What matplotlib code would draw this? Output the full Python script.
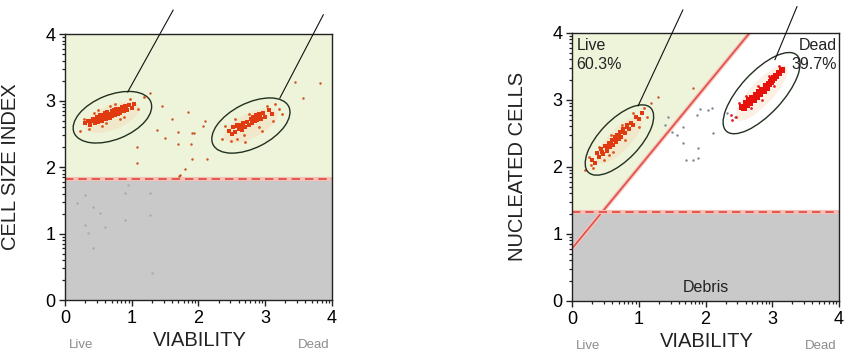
import numpy as np
import matplotlib.pyplot as plt
from matplotlib.patches import Ellipse
from matplotlib.ticker import FixedLocator

plt.rcParams['font.family'] = ['Liberation Sans', 'DejaVu Sans']

# ---- panel 1: cell size index vs viability ----
size_cut = 1.82

live1_core_x = [0.30, 0.35, 0.38, 0.42, 0.45, 0.48, 0.50, 0.52, 0.55, 0.57, 0.58, 0.60, 0.62, 0.63,
                0.65, 0.66, 0.68, 0.70, 0.71, 0.73, 0.75, 0.77, 0.79, 0.80, 0.83, 0.85, 0.88, 0.90,
                0.93, 0.96, 1.00, 1.04, 0.40, 0.46, 0.53, 0.59, 0.64, 0.69, 0.74, 0.78, 0.84, 0.91]
live1_core_y = [2.66, 2.70, 2.63, 2.73, 2.66, 2.76, 2.68, 2.78, 2.70, 2.79, 2.72, 2.81, 2.73, 2.83,
                2.75, 2.80, 2.74, 2.85, 2.77, 2.86, 2.79, 2.88, 2.80, 2.87, 2.82, 2.90, 2.84, 2.92,
                2.86, 2.93, 2.89, 2.95, 2.69, 2.71, 2.74, 2.76, 2.78, 2.79, 2.82, 2.83, 2.86, 2.88]
live1_halo_x = [0.22, 0.28, 0.36, 0.44, 0.55, 0.67, 0.82, 0.98, 1.10, 1.18, 0.50, 0.62, 0.75, 0.88]
live1_halo_y = [2.55, 2.72, 2.58, 2.82, 2.62, 2.92, 2.72, 3.02, 2.88, 3.05, 2.86, 2.66, 2.95, 2.76]

dead1_core_x = [2.45, 2.50, 2.52, 2.55, 2.58, 2.60, 2.62, 2.63, 2.65, 2.67, 2.70, 2.72, 2.75, 2.78,
                2.80, 2.82, 2.84, 2.86, 2.88, 2.90, 2.93, 2.96, 3.00, 3.05, 3.10, 2.57, 2.61, 2.66,
                2.83, 2.87, 2.92]
dead1_core_y = [2.55, 2.50, 2.60, 2.53, 2.63, 2.57, 2.64, 2.60, 2.56, 2.66, 2.60, 2.68, 2.63, 2.72,
                2.66, 2.75, 2.69, 2.78, 2.71, 2.80, 2.73, 2.82, 2.76, 2.86, 2.80, 2.62, 2.61, 2.62,
                2.72, 2.74, 2.76]
dead1_halo_x = [2.35, 2.40, 2.48, 2.55, 2.68, 2.75, 2.90, 3.02, 3.12, 3.20, 3.15, 2.58, 2.95, 2.70, 3.25]
dead1_halo_y = [2.42, 2.62, 2.40, 2.72, 2.48, 2.80, 2.60, 2.92, 2.70, 2.88, 2.95, 2.42, 2.55, 2.38, 2.80]

stray1_x = [1.45, 1.84, 1.60, 1.38, 1.69, 1.90, 1.93, 1.50, 2.07, 2.10, 1.69, 1.89, 1.90, 2.13,
            1.80, 1.71, 3.57, 3.82, 1.27, 3.45, 1.08, 1.08, 1.72]
stray1_y = [2.92, 2.83, 2.72, 2.56, 2.53, 2.51, 2.51, 2.44, 2.62, 2.69, 2.35, 2.35, 2.12, 2.12,
            1.97, 1.86, 3.04, 3.26, 3.11, 3.28, 2.30, 2.06, 1.88]

debris1_x = [0.30, 0.52, 0.42, 0.90, 1.27, 0.30, 0.60, 0.90, 0.35, 0.42, 1.27, 1.30, 0.18, 0.94]
debris1_y = [1.58, 1.31, 1.40, 1.61, 1.61, 1.13, 1.10, 1.20, 1.01, 0.78, 1.28, 0.41, 1.46, 1.73]

# gates: (center x, center y, width, height, angle)
gate1_live = (0.71, 2.75, 1.24, 0.67, 22)
gate1_dead = (2.785, 2.625, 1.27, 0.67, 27)
leader1_live = ([0.94, 1.62], [3.13, 4.36])
leader1_dead = ([3.22, 3.87], [3.04, 4.29])

# ---- panel 2: nucleated cells vs viability ----
nuc_cut = 1.33
diag_b, diag_m = 0.78, 1.21

live2_core_x = [0.30, 0.34, 0.38, 0.41, 0.44, 0.47, 0.50, 0.52, 0.55, 0.57, 0.60, 0.62, 0.64, 0.66,
                0.68, 0.70, 0.72, 0.74, 0.77, 0.79, 0.82, 0.85, 0.88, 0.92, 0.96, 1.00, 1.05, 0.45,
                0.53, 0.59, 0.65, 0.71, 0.76, 0.83]
live2_core_y = [2.10, 2.06, 2.20, 2.14, 2.26, 2.19, 2.31, 2.24, 2.36, 2.29, 2.40, 2.33, 2.45, 2.37,
                2.48, 2.41, 2.52, 2.45, 2.56, 2.50, 2.62, 2.57, 2.66, 2.63, 2.74, 2.72, 2.81, 2.22,
                2.30, 2.35, 2.41, 2.47, 2.52, 2.59]
live2_halo_x = [0.20, 0.25, 0.32, 0.40, 0.48, 0.58, 0.62, 0.75, 0.80, 0.92, 1.00, 1.08, 1.12, 0.28, 0.55]
live2_halo_y = [1.95, 2.15, 1.98, 2.30, 2.10, 2.48, 2.22, 2.62, 2.40, 2.80, 2.60, 2.88, 2.75, 2.02, 2.18]

dead2_core_x = [2.55, 2.58, 2.60, 2.62, 2.65, 2.67, 2.70, 2.72, 2.75, 2.77, 2.80, 2.82, 2.85, 2.87,
                2.90, 2.92, 2.95, 2.98, 3.00, 3.03, 3.06, 3.10, 3.14]
dead2_core_y = [2.90, 2.88, 2.95, 2.92, 2.99, 2.96, 3.02, 3.00, 3.07, 3.04, 3.11, 3.08, 3.15, 3.13,
                3.20, 3.17, 3.24, 3.26, 3.30, 3.32, 3.36, 3.40, 3.45]
dead2_halo_x = [2.45, 2.50, 2.40, 2.60, 2.68, 2.78, 2.85, 2.95, 3.02, 3.10, 2.38]
dead2_halo_y = [2.75, 2.95, 2.70, 3.05, 2.88, 3.20, 3.00, 3.35, 3.20, 3.50, 2.78]

stray2_red_x = [1.29, 1.81, 1.18]
stray2_red_y = [3.04, 3.18, 2.95]
stray2_x = [2.10, 1.92, 2.04, 1.87, 1.44, 1.39, 1.66, 1.50, 2.11, 1.57, 1.66, 1.89, 1.71, 1.81,
            1.89, 2.32, 2.44]
stray2_y = [2.88, 2.86, 2.85, 2.77, 2.74, 2.62, 2.59, 2.52, 2.50, 2.47, 2.35, 2.28, 2.10, 2.10,
            2.13, 2.80, 2.74]

gate2_live = (0.71, 2.40, 1.34, 0.60, 46)
gate2_dead = (2.84, 3.10, 1.55, 0.63, 47)
leader2_live = ([0.99, 1.66], [2.91, 4.34])
leader2_dead = ([3.04, 3.37], [3.60, 4.39])

ticks = [0, 1, 2, 3, 4]
minor = [i + np.log10(k) for i in range(4) for k in range(2, 10)]

GREEN = '#eef4da'
GREY = '#c9c9c9'
RED = '#e03a10'
GATE = '#22301f'


def style_axes(ax, ylabel):
    ax.set_xlim(0, 4)
    ax.set_ylim(0, 4)
    ax.xaxis.set_major_locator(FixedLocator(ticks))
    ax.yaxis.set_major_locator(FixedLocator(ticks))
    ax.xaxis.set_minor_locator(FixedLocator(minor))
    ax.yaxis.set_minor_locator(FixedLocator(minor))
    ax.tick_params(which='major', direction='out', length=4, width=1.0, labelsize=13, pad=3,
                   color='#222222')
    ax.tick_params(which='minor', direction='out', length=2.5, width=0.9, color='#222222')
    for s in ax.spines.values():
        s.set_linewidth(1.0)
        s.set_color('#222222')
    ax.set_ylabel(ylabel, fontsize=14.5, color='#222222')
    ax.yaxis.set_label_coords(-0.17, 0.5)
    ax.set_xlabel('VIABILITY', fontsize=14.5, color='#222222')
    ax.xaxis.set_label_coords(0.505, -0.115)
    ax.text(0.06, -0.17, 'Live', transform=ax.transAxes, fontsize=9.5, color='#8c8c8c',
            ha='center', va='center')
    ax.text(0.93, -0.17, 'Dead', transform=ax.transAxes, fontsize=9.5, color='#8c8c8c',
            ha='center', va='center')


def gate(ax, g, leader):
    cx, cy, w, h, ang = g
    ax.add_patch(Ellipse((cx, cy), w * 0.7, h * 0.55, angle=ang, facecolor='#f9d2b0', alpha=0.35,
                         edgecolor='none', zorder=2))
    ax.add_patch(Ellipse((cx, cy), w, h, angle=ang, facecolor='none', edgecolor=GATE,
                         lw=1.0, zorder=5))
    ax.plot(leader[0], leader[1], color='#111111', lw=0.8, clip_on=False, zorder=5)


fig = plt.figure(figsize=(8.51, 3.56), dpi=100)

# left panel
ax1 = fig.add_axes([0.0764, 0.157, 0.3137, 0.7472])
ax1.axhspan(size_cut, 4, color=GREEN, zorder=0)
ax1.axhspan(0, size_cut, color=GREY, zorder=0)
ax1.axhline(size_cut, color='#f4c0b8', lw=3, zorder=1)
ax1.axhline(size_cut, color='#e0463c', lw=1.2, ls=(0, (5, 3)), zorder=1)
gate(ax1, gate1_live, leader1_live)
gate(ax1, gate1_dead, leader1_dead)
ax1.scatter(debris1_x, debris1_y, s=3, color='#a9a9a9', lw=0, zorder=3)
ax1.scatter(stray1_x, stray1_y, s=3, color='#c8501e', lw=0, zorder=3)
ax1.scatter(live1_halo_x, live1_halo_y, s=4, color='#d8561e', lw=0, zorder=3)
ax1.scatter(dead1_halo_x, dead1_halo_y, s=4, color='#d8561e', lw=0, zorder=3)
ax1.scatter(live1_core_x, live1_core_y, s=12, marker='s', color=RED, lw=0, zorder=4)
ax1.scatter(dead1_core_x, dead1_core_y, s=9, marker='s', color=RED, lw=0, zorder=4)
style_axes(ax1, 'CELL SIZE INDEX')

# right panel
ax2 = fig.add_axes([0.6722, 0.155, 0.3137, 0.7528])
ax2.set_facecolor('white')
yy = np.array([nuc_cut, 4])
ax2.fill_betweenx(yy, 0, (yy - diag_b) / diag_m, color=GREEN, lw=0, zorder=0)
ax2.axhspan(0, nuc_cut, color=GREY, zorder=0)
xx = np.array([0, (4 - diag_b) / diag_m])
ax2.plot(xx, diag_b + diag_m * xx, color='#f6c4bc', lw=3, zorder=1)
ax2.plot(xx, diag_b + diag_m * xx, color='#e05048', lw=1.2, zorder=1)
ax2.axhline(nuc_cut, color='#f4c0b8', lw=3, zorder=1)
ax2.axhline(nuc_cut, color='#e0463c', lw=1.2, ls=(0, (5, 3)), zorder=1)
gate(ax2, gate2_live, leader2_live)
gate(ax2, gate2_dead, leader2_dead)
ax2.scatter(stray2_x, stray2_y, s=3, color='#7d8795', lw=0, zorder=3)
ax2.scatter(stray2_red_x, stray2_red_y, s=3, color='#c8501e', lw=0, zorder=3)
ax2.scatter(live2_halo_x, live2_halo_y, s=4, color='#d8561e', lw=0, zorder=3)
ax2.scatter(dead2_halo_x, dead2_halo_y, s=4, color='#e02020', lw=0, zorder=3)
ax2.scatter(live2_core_x, live2_core_y, s=12, marker='s', color=RED, lw=0, zorder=4)
ax2.scatter(dead2_core_x, dead2_core_y, s=14, marker='s', color='#e8100c', lw=0, zorder=4)
ax2.text(0.07, 3.93, 'Live\n60.3%', fontsize=11.5, color='#222222', ha='left', va='top',
         linespacing=1.35, zorder=6)
ax2.text(3.97, 3.93, 'Dead\n39.7%', fontsize=11.5, color='#222222', ha='right', va='top',
         linespacing=1.35, zorder=6)
ax2.text(2.0, 0.2, 'Debris', fontsize=11.5, color='#222222', ha='center', va='center', zorder=6)
style_axes(ax2, 'NUCLEATED CELLS')

fig.savefig('out.png', dpi=100)
